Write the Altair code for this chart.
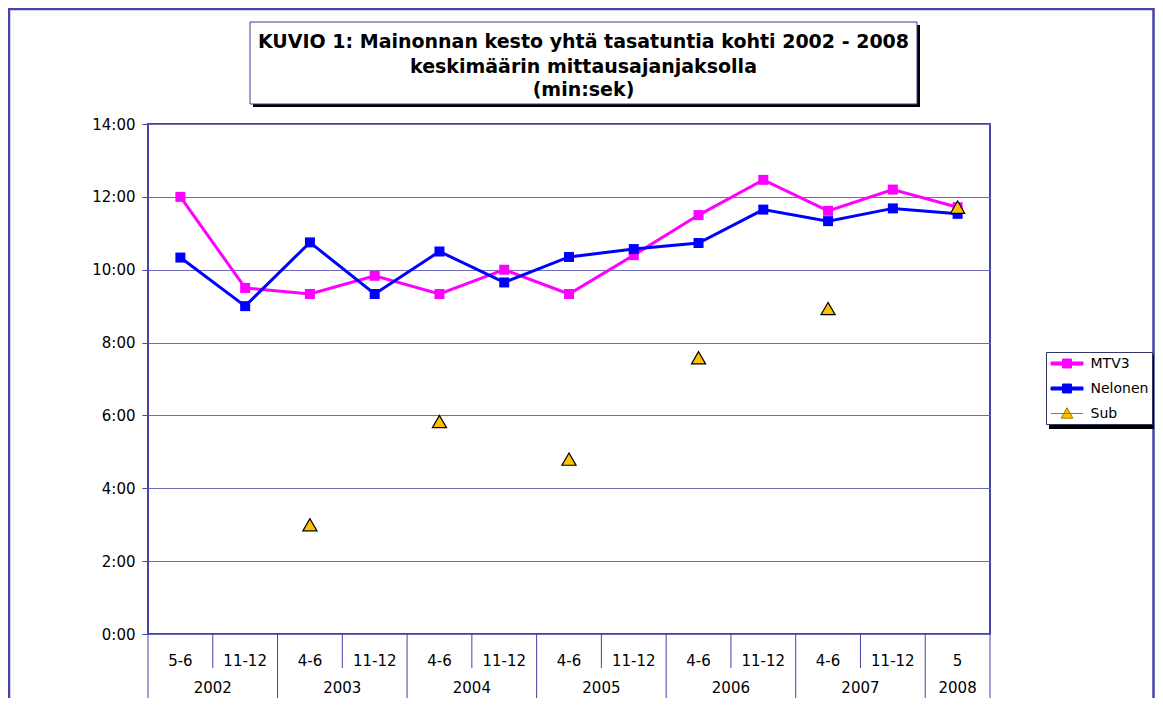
import altair as alt
import pandas as pd

# ---------------- data ----------------
periods = ["5-6", "11-12", "4-6", "11-12", "4-6", "11-12", "4-6", "11-12",
           "4-6", "11-12", "4-6", "11-12", "5"]
years = ["2002", "2003", "2004", "2005", "2006", "2007", "2008"]
year_counts = [2, 2, 2, 2, 2, 2, 1]
series = ["MTV3", "Nelonen", "Sub"]
mtv3 = ["12:00", "9:30", "9:20", "9:50", "9:20", "10:00", "9:20", "10:24",
        "11:30", "12:28", "11:37", "12:12", "11:43"]
nelonen = ["10:20", "9:00", "10:45", "9:20", "10:30", "9:39", "10:21", "10:34",
           "10:44", "11:39", "11:20", "11:41", "11:32"]
sub = [None, None, "3:00", None, "5:50", None, "4:48", None,
       "7:35", None, "8:56", None, "11:43"]
y_ticks = [0, 2, 4, 6, 8, 10, 12, 14]
title_lines = ["KUVIO 1: Mainonnan kesto yhtä tasatuntia kohti 2002 - 2008",
               "keskimäärin mittausajanjaksolla",
               "(min:sek)"]

colors_fill = ["#ff00ff", "#0000ff", "#ffc000"]
colors_stroke = ["#ff00ff", "#0000ff", "#a07800"]
legend_paths = [
    "M-2,-0.19H2V0.19H-2ZM-0.56,-0.56H0.56V0.56H-0.56Z",
    "M-2,-0.19H2V0.19H-2ZM-0.56,-0.56H0.56V0.56H-0.56Z",
    "M-2,0H2M0,-0.72L0.74,0.58H-0.74Z",
]

FONT = "DejaVu Sans"
NAVY = "#4444a6"
GRID = "#6c6cb6"


def to_min(s):
    m, sec = s.split(":")
    return int(m) + int(sec) / 60.0


rows = []
for name, vals in zip(series, [mtv3, nelonen, sub]):
    for i, v in enumerate(vals):
        if v is None:
            continue
        rows.append({"serie": name, "pos": i + 0.5, "period": periods[i],
                     "value": to_min(v), "label": v})
df = pd.DataFrame(rows)

period_df = pd.DataFrame({"pos": [i + 0.5 for i in range(len(periods))],
                          "label": periods})
starts = []
acc = 0
for n in year_counts:
    starts.append(acc)
    acc += n
year_df = pd.DataFrame({"pos": [s + n / 2 for s, n in zip(starts, year_counts)],
                        "label": years})
inner_sep = pd.DataFrame({"pos": [s + 1 for s, n in zip(starts, year_counts) if n > 1]})
outer_sep = pd.DataFrame({"pos": starts + [acc]})

one = pd.DataFrame({"k": [0]})

X = alt.X("pos:Q", scale=alt.Scale(domain=[0, len(periods)], nice=False, zero=False), axis=None)
Y = alt.Y("value:Q", scale=alt.Scale(domain=[0, 14], nice=False, zero=True), title=None,
          axis=alt.Axis(values=y_ticks, labelExpr="datum.value + ':00'", grid=True,
                        gridColor=GRID, gridWidth=1, domain=False, ticks=True,
                        tickColor=NAVY, tickSize=6, tickWidth=1, labelPadding=7,
                        labelFont=FONT, labelFontSize=15, labelColor="black"))

color_scale = alt.Scale(domain=series, range=colors_fill)

# ---------------- decorations ----------------
outer = alt.Chart(one).mark_rect(fill="transparent", fillOpacity=0, stroke=NAVY,
                                 strokeWidth=2.5).encode(
    x=alt.value(-139), x2=alt.value(1005.5), y=alt.value(-115), y2=alt.value(600))

title_shadow = alt.Chart(one).mark_rect(fill="black").encode(
    x=alt.value(105), x2=alt.value(772), y=alt.value(-99), y2=alt.value(-17))
title_box = alt.Chart(one).mark_rect(fill="white", stroke="#3a3a9a", strokeWidth=1).encode(
    x=alt.value(102), x2=alt.value(769), y=alt.value(-102), y2=alt.value(-20))
title_texts = [
    alt.Chart(one).mark_text(font=FONT, fontSize=19, fontWeight="bold", color="black",
                             align="center", baseline="middle").encode(
        x=alt.value(435.5), y=alt.value(yy), text=alt.value(t))
    for t, yy in zip(title_lines, [-82, -57, -34])
]

legend_shadow = alt.Chart(one).mark_rect(fill="black").encode(
    x=alt.value(901), x2=alt.value(1006), y=alt.value(231), y2=alt.value(305))

# ---------------- legend carrier (invisible points, real legend) ----------------
leg_props = dict(orient="none", legendX=898, legendY=228, title=None, direction="vertical",
                 padding=3, symbolSize=256, symbolStrokeWidth=1, symbolOffset=9.5,
                 labelOffset=15, rowPadding=9, labelFont=FONT, labelFontSize=14,
                 labelColor="black", strokeColor="#333366", fillColor="white",
                 symbolOpacity=1, zindex=2,
                 labelExpr="datum.label + '\u00a0\u00a0'")
legend_layer = alt.Chart(df).mark_point(filled=True, opacity=0).encode(
    x=X, y=Y,
    shape=alt.Shape("serie:N", scale=alt.Scale(domain=series, range=legend_paths),
                    legend=alt.Legend(**leg_props)),
    fill=alt.Fill("serie:N", scale=alt.Scale(domain=series, range=colors_fill),
                  legend=alt.Legend(**leg_props)),
    stroke=alt.Stroke("serie:N", scale=alt.Scale(domain=series, range=colors_stroke),
                      legend=alt.Legend(**leg_props)))

# ---------------- data layers ----------------
lines = alt.Chart(df).transform_filter(alt.datum.serie != "Sub").mark_line(
    strokeWidth=3).encode(
    x=X, y=Y, detail="serie:N",
    color=alt.Color("serie:N", scale=color_scale, legend=None))

squares = alt.Chart(df).transform_filter(alt.datum.serie != "Sub").mark_point(
    shape="square", filled=True, size=100, opacity=1).encode(
    x=X, y=Y,
    color=alt.Color("serie:N", scale=color_scale, legend=None))

triangles = alt.Chart(df).transform_filter(alt.datum.serie == "Sub").mark_point(
    shape="triangle-up", filled=True, size=200, fill="#ffc000", stroke="black",
    strokeWidth=1.2, opacity=1).encode(x=X, y=Y)

# ---------------- category axis ----------------
inner_rules = alt.Chart(inner_sep).mark_rule(color=NAVY, strokeWidth=1).encode(
    x=X, y=alt.value(510), y2=alt.value(544))
outer_rules = alt.Chart(outer_sep).mark_rule(color=NAVY, strokeWidth=1).encode(
    x=X, y=alt.value(510), y2=alt.value(577))
period_text = alt.Chart(period_df).mark_text(font=FONT, fontSize=15, color="black",
                                             align="center", baseline="middle").encode(
    x=X, y=alt.value(537), text="label:N")
year_text = alt.Chart(year_df).mark_text(font=FONT, fontSize=15, color="black",
                                         align="center", baseline="middle").encode(
    x=X, y=alt.value(564), text="label:N")

chart = alt.layer(
    outer, title_shadow, title_box, *title_texts, legend_shadow, legend_layer,
    inner_rules, outer_rules, period_text, year_text,
    lines, squares, triangles,
).properties(
    width=842, height=510,
    autosize=alt.AutoSizeParams(type="none"),
    padding={"left": 140, "top": 116, "right": 165, "bottom": 64},
    background="white",
).configure_view(
    stroke=NAVY, strokeWidth=2
)

chart.save("out.html", embed_options={"renderer": "svg", "actions": False})
